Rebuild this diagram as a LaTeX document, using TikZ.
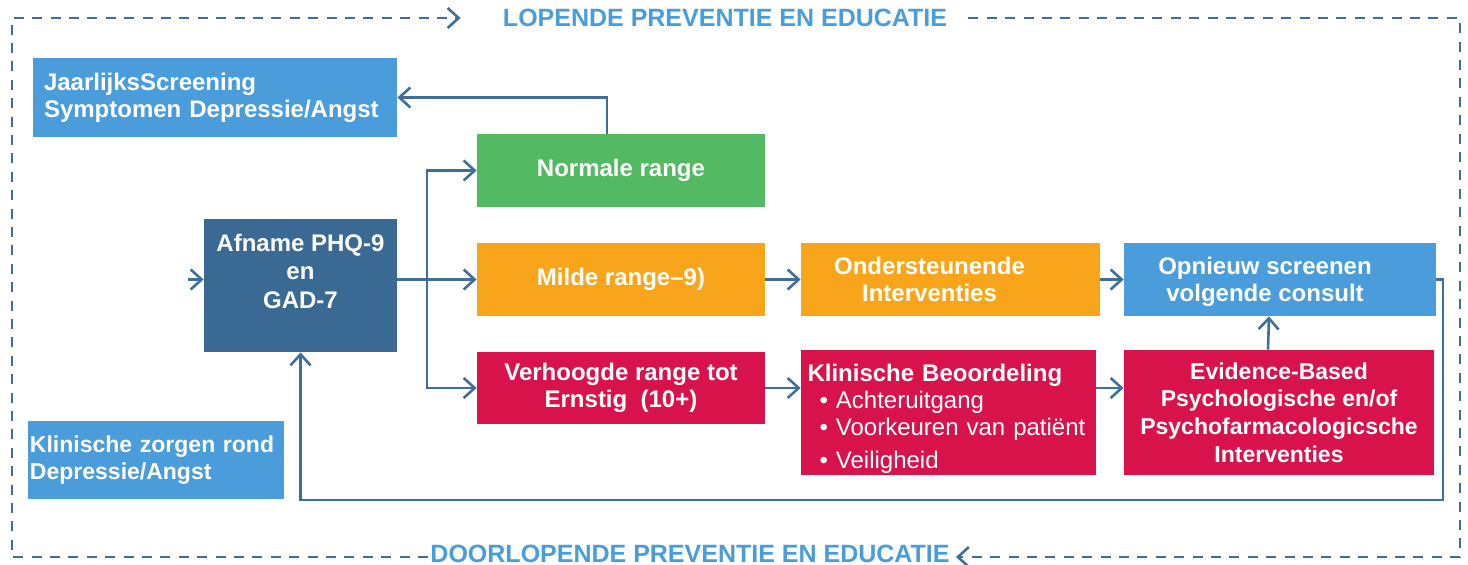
\documentclass[tikz,border=0pt]{standalone}
\usepackage{fontspec}
\setmainfont{Liberation Sans}
\usetikzlibrary{arrows.meta, positioning, calc}

\definecolor{linecol}{RGB}{64,110,153}
\definecolor{skyblue}{RGB}{74,157,218}
\definecolor{steelblue}{RGB}{58,106,148}
\definecolor{leafgreen}{RGB}{83,186,99}
\definecolor{amber}{RGB}{249,165,28}
\definecolor{crimson}{RGB}{216,19,75}

\begin{document}
\begin{tikzpicture}[
    x=0.5pt, y=-0.5pt,
    >={Straight Barb[length=5.5pt, width=10pt]},
    box/.style={rectangle, inner sep=1pt, align=center, text=white, font=\fontsize{12}{13.5}\selectfont\bfseries},
    flow/.style={->, line width=1.3pt, linecol},
    frame/.style={->, dashed, dash pattern=on 5pt off 4.2pt, line width=1.3pt, linecol, line join=miter},
    title/.style={text=skyblue, inner sep=1pt, font=\fontsize{12.5}{15}\selectfont\bfseries},
]

\useasboundingbox (0,0) rectangle (1468,565);

% Titles and dashed frame
\node (Top) at (725,18) [title] {LOPENDE PREVENTIE EN EDUCATIE};
\node (Bottom) at (690,554) [title] {DOORLOPENDE PREVENTIE EN EDUCATIE};
\coordinate (NW) at (12,18);
\coordinate (SE) at (1460,557);
\draw[frame] (Bottom.west |- SE) -| (NW) -- ($(Top.west)+(-40,0)$);
\draw[frame] ($(Top.east)+(19,0)$) -| (SE) -- ($(Bottom.east |- SE)+(4,0)$);

% Boxes
\node (Screening) at (215,97.5) [box, fill=skyblue, minimum width=182pt, minimum height=39.5pt, text width=171pt, align=left] {JaarlijksScreening\\Symptomen Depressie/Angst};
\node (Normal) at (621,170.5) [box, fill=leafgreen, minimum width=144pt, minimum height=36.5pt] {Normale range};
\node (Phq) at (300.5,285.5) [box, fill=steelblue, minimum width=96.5pt, minimum height=66.5pt, font=\fontsize{12}{14.25}\selectfont\bfseries] {Afname PHQ-9\\en\\GAD-7\\\mbox{}};
\node (Mild) at (621,279.5) [box, fill=amber, minimum width=144pt, minimum height=36.5pt] {Milde range–9)};
\node (Severe) at (621,388) [box, fill=crimson, minimum width=144pt, minimum height=36pt] {Verhoogde range tot\\Ernstig~ (10+)};
\node (Support) at (950.5,279.5) [box, fill=amber, minimum width=149.5pt, minimum height=36.5pt] {Ondersteunende\hspace*{21pt}\\Interventies\hspace*{21pt}};
\node (Rescreen) at (1280,279.5) [box, fill=skyblue, minimum width=156pt, minimum height=36.5pt] {\rule{0pt}{11pt}Opnieuw screenen\hspace*{15pt}\\volgende consult\hspace*{15pt}};
\node (Assess) at (948.5,412.5) [box, fill=crimson, minimum width=147.5pt, minimum height=62.5pt, text width=141pt, align=left] {\rule{0pt}{15pt}Klinische Beoordeling\\
    \mdseries\hspace*{6pt}\textbullet\ Achteruitgang\\
    \mdseries\hspace*{6pt}\textbullet\ Voorkeuren van patiënt\\[3pt]
    \mdseries\hspace*{6pt}\textbullet\ Veiligheid};
\node (Treat) at (1279,412.5) [box, fill=crimson, minimum width=155pt, minimum height=62.5pt, font=\fontsize{11.5}{13.8}\selectfont\bfseries] {Evidence-Based\\Psychologische en/of\\Psychofarmacologicsche\\Interventies};
\node (Care) at (156,460) [box, fill=skyblue, minimum width=127pt, minimum height=39pt, text width=126pt, align=left, font=\fontsize{11.5}{13.8}\selectfont\bfseries] {Klinische zorgen rond\\Depressie/Angst};

% Connections
\coordinate (Branch) at (427,279.5);
\coordinate (Input) at (188,279.5);
\coordinate (Loop) at (1443,500);
\draw[flow] ([xshift=-7pt]Normal.north) |- (Screening);
\draw[flow] (Input) -- (Phq.west |- Input);
\draw[flow] (Phq.east |- Mild) -- (Mild);
\draw[flow] (Branch) |- (Normal);
\draw[flow] (Branch) |- (Severe);
\draw[flow] (Mild) -- (Support);
\draw[flow] (Support) -- (Rescreen);
\draw[flow] (Severe) -- (Assess.west |- Severe);
\draw[flow] (Assess.east |- Severe) -- (Treat.west |- Severe);
\draw[flow] ([xshift=-5.5pt]Treat.north) -- ([xshift=-5.5pt]Rescreen.south);
\draw[flow] (Rescreen.east) -| (Loop) -| (Phq.south);

\end{tikzpicture}
\end{document}
